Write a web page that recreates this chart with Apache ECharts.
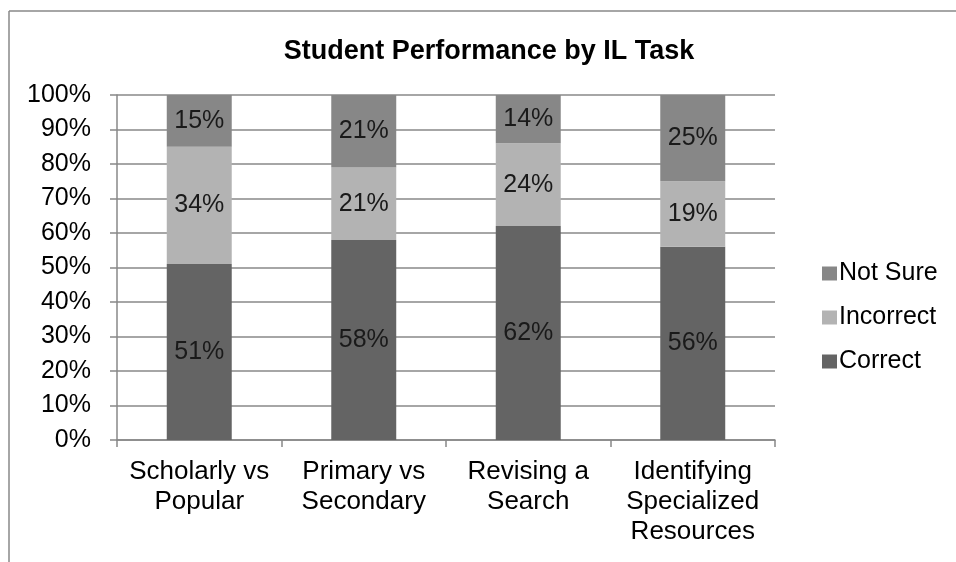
<!DOCTYPE html>
<html>
<head>
<meta charset="utf-8"/>
<title>Student Performance by IL Task</title>
<script src="https://cdn.jsdelivr.net/npm/echarts@6.0.0/dist/echarts.min.js"></script>
<style>
  html, body { margin: 0; padding: 0; background: #fff; }
  #main { width: 956px; height: 562px; }
</style>
</head>
<body>
<div id="main"></div>
<script type="text/javascript">
    // data
    var tasks = ['Scholarly vs\nPopular', 'Primary vs\nSecondary', 'Revising a\nSearch', 'Identifying\nSpecialized\nResources'];
    var correct = [51, 58, 62, 56];
    var incorrect = [34, 21, 24, 19];
    var notSure = [15, 21, 14, 25];
    var yTicks = [0, 10, 20, 30, 40, 50, 60, 70, 80, 90, 100];

    var font = 'Liberation Sans, Arial, sans-serif';
    var myChart = echarts.init(document.getElementById('main'));

    function barSeries(name, data, color) {
        return {
            name: name,
            type: 'bar',
            stack: 'total',
            barWidth: '39.5%',
            data: data,
            itemStyle: { color: color },
            label: {
                show: true,
                position: 'inside',
                formatter: '{c}%',
                fontFamily: font,
                fontSize: 25,
                color: '#1a1a1a'
            }
        };
    }

    var option = {
        animation: false,
        title: {
            text: 'Student Performance by IL Task',
            left: 484,
            textAlign: 'center',
            top: 33,
            textStyle: { fontFamily: font, fontSize: 27, fontWeight: 'bold', color: '#000' }
        },
        legend: {
            orient: 'vertical',
            left: 817,
            top: 256,
            itemWidth: 15,
            itemHeight: 14,
            itemGap: 19,
            icon: 'rect',
            data: ['Not Sure', 'Incorrect', 'Correct'],
            textStyle: { fontFamily: font, fontSize: 25, color: '#000', padding: [0, 0, 0, -3] }
        },
        grid: { left: 117, right: 181, top: 95, bottom: 122 },
        xAxis: {
            type: 'category',
            data: tasks,
            axisLine: { lineStyle: { color: '#888', width: 1.5 } },
            axisTick: { show: true, length: 7, lineStyle: { color: '#888', width: 1.5 } },
            axisLabel: { fontFamily: font, fontSize: 26, color: '#000', lineHeight: 30, margin: 17, interval: 0 }
        },
        yAxis: {
            type: 'value',
            min: yTicks[0],
            max: yTicks[yTicks.length - 1],
            interval: 10,
            axisLine: { show: true, lineStyle: { color: '#888', width: 1.5 } },
            axisTick: { show: true, length: 7, lineStyle: { color: '#888', width: 1.5 } },
            splitLine: { lineStyle: { color: '#888', width: 1.5 } },
            axisLabel: { fontFamily: font, fontSize: 25, color: '#000', margin: 26, formatter: '{value}%' }
        },
        graphic: [
            { type: 'line', shape: { x1: 9, y1: 11, x2: 956, y2: 11 }, style: { stroke: '#888', lineWidth: 1.5 } },
            { type: 'line', shape: { x1: 9, y1: 11, x2: 9, y2: 562 }, style: { stroke: '#888', lineWidth: 1.5 } }
        ],
        series: [
            barSeries('Correct', correct, '#646464'),
            barSeries('Incorrect', incorrect, '#b3b3b3'),
            barSeries('Not Sure', notSure, '#878787')
        ]
    };

    myChart.setOption(option);
</script>
</body>
</html>
